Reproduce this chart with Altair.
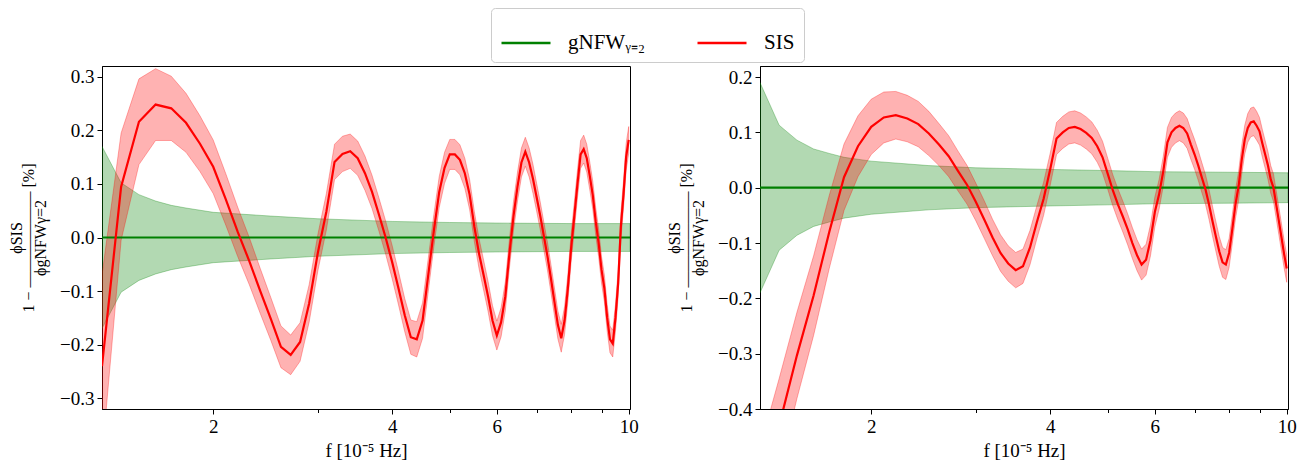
import altair as alt
import pandas as pd

# ---------------- data ----------------
f_grid = [1.3, 1.4, 1.5, 1.6, 1.7, 1.8, 1.9,
          2.0, 2.1, 2.2, 2.3, 2.4, 2.5, 2.6, 2.7, 2.8, 2.9,
          3.0, 3.1, 3.2, 3.3, 3.4, 3.5, 3.6, 3.7, 3.8, 3.9,
          4.0, 4.1, 4.2, 4.3, 4.4, 4.5, 4.6, 4.7, 4.8, 4.9,
          5.0, 5.1, 5.2, 5.3, 5.4, 5.5, 5.6, 5.7, 5.8, 5.9,
          6.0, 6.1, 6.2, 6.3, 6.4, 6.5, 6.6, 6.7, 6.8, 6.9,
          7.0, 7.1, 7.2, 7.3, 7.4, 7.5, 7.6, 7.7, 7.8, 7.9,
          8.0, 8.1, 8.2, 8.3, 8.4, 8.5, 8.6, 8.7, 8.8, 8.9,
          9.0, 9.1, 9.2, 9.3, 9.4, 9.5, 9.6, 9.7, 9.8, 9.9,
          10.0]

# left panel: SIS residual [%] and its half band width
sis_left = [-0.240, 0.095, 0.216, 0.248, 0.241, 0.214, 0.175,
            0.132, 0.071, 0.010, -0.044, -0.100, -0.152, -0.204, -0.219, -0.195, -0.123,
            -0.028, 0.048, 0.141, 0.156, 0.161, 0.148, 0.120, 0.085, 0.043, 0.000,
            -0.046, -0.095, -0.145, -0.186, -0.190, -0.155, -0.070, 0.012, 0.085, 0.130,
            0.155, 0.155, 0.145, 0.120, 0.080, 0.020, -0.030, -0.070, -0.110, -0.155,
            -0.183, -0.158, -0.110, -0.030, 0.040, 0.095, 0.140, 0.160, 0.140, 0.110,
            0.075, 0.040, 0.002, -0.035, -0.077, -0.120, -0.163, -0.188, -0.155, -0.095,
            -0.020, 0.040, 0.100, 0.155, 0.165, 0.148, 0.115, 0.079, 0.030, -0.010,
            -0.060, -0.095, -0.150, -0.190, -0.198, -0.150, -0.085, 0.020, 0.080, 0.150,
            0.182]
sis_left_err = [0.170, 0.100, 0.080, 0.067, 0.060, 0.055, 0.052,
                0.050, 0.048, 0.046, 0.044, 0.042, 0.040, 0.039, 0.037, 0.036, 0.035,
                0.034, 0.034, 0.033, 0.033, 0.032, 0.032, 0.032, 0.031, 0.031, 0.031,
                0.031, 0.031, 0.031, 0.032, 0.033, 0.033, 0.031, 0.030, 0.029, 0.029,
                0.028, 0.028, 0.028, 0.028, 0.028, 0.028, 0.028, 0.028, 0.028, 0.028,
                0.027, 0.027, 0.027, 0.027, 0.027, 0.027, 0.027, 0.027, 0.027, 0.027,
                0.026, 0.026, 0.026, 0.026, 0.026, 0.026, 0.026, 0.026, 0.026, 0.026,
                0.026, 0.026, 0.026, 0.026, 0.026, 0.026, 0.026, 0.026, 0.026, 0.026,
                0.025, 0.025, 0.025, 0.025, 0.025, 0.025, 0.025, 0.025, 0.025, 0.025,
                0.025]

# right panel
sis_right = [-0.560, -0.430, -0.303, -0.195, -0.080, 0.019, 0.075,
             0.110, 0.127, 0.131, 0.125, 0.115, 0.098, 0.078, 0.057, 0.030, 0.005,
             -0.026, -0.058, -0.090, -0.118, -0.137, -0.149, -0.142, -0.108, -0.062, -0.020,
             0.033, 0.089, 0.100, 0.108, 0.110, 0.106, 0.099, 0.090, 0.075, 0.055,
             0.025, -0.005, -0.030, -0.052, -0.075, -0.100, -0.122, -0.139, -0.130, -0.095,
             -0.044, -0.012, 0.030, 0.082, 0.100, 0.108, 0.112, 0.108, 0.098, 0.078,
             0.060, 0.040, 0.018, -0.003, -0.030, -0.060, -0.088, -0.115, -0.135, -0.139,
             -0.118, -0.075, -0.030, 0.003, 0.050, 0.087, 0.108, 0.118, 0.120, 0.112,
             0.102, 0.080, 0.060, 0.040, 0.015, 0.000, -0.030, -0.060, -0.090, -0.120,
             -0.146]
sis_right_err = [0.090, 0.085, 0.078, 0.072, 0.066, 0.060, 0.055,
                 0.050, 0.046, 0.043, 0.042, 0.041, 0.040, 0.038, 0.037, 0.036, 0.035,
                 0.034, 0.034, 0.033, 0.033, 0.032, 0.032, 0.031, 0.031, 0.030, 0.030,
                 0.029, 0.029, 0.029, 0.029, 0.029, 0.029, 0.029, 0.029, 0.029, 0.029,
                 0.028, 0.028, 0.028, 0.028, 0.028, 0.028, 0.028, 0.028, 0.028, 0.028,
                 0.027, 0.027, 0.027, 0.027, 0.027, 0.027, 0.027, 0.027, 0.027, 0.027,
                 0.027, 0.027, 0.027, 0.027, 0.027, 0.027, 0.027, 0.027, 0.027, 0.027,
                 0.026, 0.026, 0.026, 0.026, 0.026, 0.026, 0.026, 0.026, 0.026, 0.026,
                 0.025, 0.025, 0.025, 0.025, 0.025, 0.025, 0.025, 0.025, 0.025, 0.025,
                 0.025]

# gNFW reference (residual 0) and its half band width
f_gnfw = [1.3, 1.4, 1.5, 1.6, 1.7, 1.8, 2.0, 2.5, 3.0, 4.0, 5.0, 6.0, 8.0, 10.05]
gnfw_center = [0.0, 0.0, 0.0, 0.0, 0.0, 0.0, 0.0, 0.0, 0.0, 0.0, 0.0, 0.0, 0.0, 0.0]
gnfw_left_err = [0.170, 0.102, 0.080, 0.068, 0.060, 0.055, 0.047, 0.040, 0.035, 0.030, 0.028, 0.027, 0.026, 0.026]
gnfw_right_err = [0.190, 0.113, 0.086, 0.070, 0.062, 0.055, 0.048, 0.040, 0.036, 0.033, 0.031, 0.029, 0.028, 0.027]

x_ticks = [2, 3, 4, 5, 6, 7, 8, 9, 10]
y_ticks_left = [-0.3, -0.2, -0.1, 0.0, 0.1, 0.2, 0.3]
y_ticks_right = [-0.4, -0.3, -0.2, -0.1, 0.0, 0.1, 0.2]

LBL_G = "gNFWᵧ₌₂"
LBL_S = "SIS"
GREEN = "#008000"
RED = "#ff0000"
FONT = "Liberation Serif"

W, H = 528, 343


def make_df(f, v, e, name):
    df = pd.DataFrame({"f": f, "v": v, "e": e})
    df["lo"] = df["v"] - df["e"]
    df["hi"] = df["v"] + df["e"]
    df["series"] = name
    return df


def panel(sis, sis_err, g_err, ydom, yticks):
    sdf = make_df(f_grid, sis, sis_err, LBL_S)
    gdf = make_df(f_gnfw, gnfw_center, g_err, LBL_G)
    xs = alt.Scale(type="log", domain=[1.3, 10.05], nice=False)
    ys = alt.Scale(domain=ydom, nice=False, zero=False)
    major = "datum.value == 2 || datum.value == 4 || datum.value == 6 || datum.value == 10"
    xaxis = alt.Axis(values=x_ticks, title="f  [10⁻⁵ Hz]",
                     labelExpr="(" + major + ") ? format(datum.value, 'd') : ''",
                     tickSize={"condition": {"test": major, "value": 5}, "value": 3.5},
                     labelPadding=3, titlePadding=5)
    yaxis = alt.Axis(values=yticks, format=".1f",
                     title=["ϕSIS", "1 − ——————  [%]", "ϕgNFWγ=2"],
                     titleFontSize=16, titleLineHeight=12, titlePadding=11)
    X = alt.X("f:Q", scale=xs, axis=xaxis)
    g_band = alt.Chart(gdf).mark_area(clip=True, color=GREEN, fillOpacity=0.3,
                                      stroke=GREEN, strokeOpacity=0.3, strokeWidth=1).encode(
        x=X, y=alt.Y("lo:Q", scale=ys, axis=yaxis), y2="hi:Q")
    s_band = alt.Chart(sdf).mark_area(clip=True, color=RED, fillOpacity=0.3,
                                      stroke=RED, strokeOpacity=0.3, strokeWidth=1).encode(
        x="f:Q", y="lo:Q", y2="hi:Q")
    color = alt.Color("series:N",
                      scale=alt.Scale(domain=[LBL_G, LBL_S], range=[GREEN, RED]),
                      legend=alt.Legend(title=None, orient="none", direction="horizontal",
                                        legendX=389, legendY=-58))
    g_line = alt.Chart(gdf).mark_line(clip=True, strokeWidth=2.2).encode(
        x="f:Q", y="v:Q", color=color)
    s_line = alt.Chart(sdf).mark_line(clip=True, strokeWidth=2.2).encode(
        x="f:Q", y="v:Q", color=color)
    return alt.layer(g_band, s_band, g_line, s_line).properties(width=W, height=H)


left = panel(sis_left, sis_left_err, gnfw_left_err, [-0.32, 0.32], y_ticks_left)
right = panel(sis_right, sis_right_err, gnfw_right_err, [-0.4, 0.22], y_ticks_right)

chart = alt.hconcat(left, right, spacing=27).properties(
    padding={"left": 8, "top": 7, "right": 5, "bottom": 5}
).configure_view(
    stroke="black", strokeWidth=1
).configure_axis(
    grid=False, domainColor="black", tickColor="black", labelColor="black",
    titleColor="black", labelFont=FONT, titleFont=FONT, labelFontSize=19,
    titleFontSize=19, titleFontWeight="normal", tickSize=5, labelPadding=3
).configure_legend(
    labelFont=FONT, labelFontSize=21, labelColor="black",
    symbolType="stroke", symbolSize=2401, symbolStrokeWidth=2.5,
    labelOffset=16, columnPadding=46, padding=9,
    strokeColor="#cccccc", cornerRadius=4, fillColor="white"
)

chart.save("out.html", embed_options={"renderer": "svg", "actions": False})
